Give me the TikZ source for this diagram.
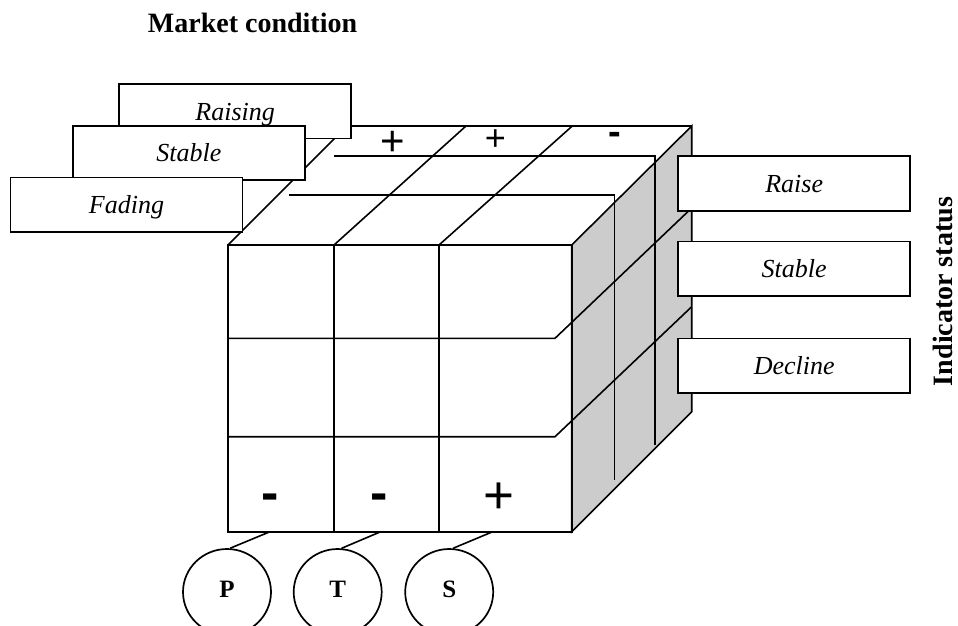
\documentclass[tikz,border=0pt]{standalone}
\usepackage{fontspec}
\setmainfont{Liberation Serif}
\newfontfamily\signfont{Liberation Sans}
\usetikzlibrary{shapes.geometric}
\begin{document}
\begin{tikzpicture}[x=1pt,y=-1pt,line width=1.6pt,
  cubeline/.style={line width=1.6pt,line join=miter},
  facegray/.style={fill=black!20,draw=black,line width=1.6pt},
  lblbox/.style={draw,fill=white,line width=1.8pt,minimum width=232pt,minimum height=54.5pt,
    inner sep=0pt,text height=18pt,text depth=0pt,font=\fontsize{26}{30}\selectfont\itshape},
  title/.style={anchor=base,inner sep=0pt,font=\fontsize{28}{32}\selectfont\bfseries},
  letternode/.style={draw,ellipse,line width=1.7pt,minimum width=88pt,minimum height=86pt,
    inner sep=0pt,text height=10.6pt,text depth=0pt,font=\fontsize{25}{29}\selectfont\bfseries},
  plussign/.style={anchor=base,inner sep=0pt},
  wire/.style={line width=1.6pt}]
\useasboundingbox (0,0) rectangle (958,625);
\begin{scope}
\clip (0,0) rectangle (958,625);
% cube corners
\coordinate (F1) at (228,245);
\coordinate (F2) at (571.7,245);
\coordinate (F3) at (571.7,531.7);
\coordinate (F4) at (228,531.7);
\coordinate (B1) at (347,126);
\coordinate (B2) at (691.7,126);
\coordinate (B3) at (691.7,411.7);
% right face
\draw[facegray] (F2) -- (B2) -- (B3) -- (F3) -- cycle;
% front face
\draw[cubeline] (F1) rectangle (F3);
% top face
\draw[cubeline] (F1) -- (B1) -- (B2);
% front column lines
\draw[cubeline] (334,245) -- (334,531.7);
\draw[cubeline] (439,245) -- (439,531.7);
% row lines bending onto the right face
\draw[cubeline] (228,338.3) -- (555,338.3) -- (691.7,208);
\draw[cubeline] (228,436.7) -- (555,436.7) -- (691.7,306.7);
% top column lines
\draw[cubeline] (334,245) -- (466,126);
\draw[cubeline] (439,245) -- (572.3,126);
% depth lines
\draw[cubeline] (334,156) -- (655,156) -- (655,445);
\draw[cubeline] (289,195) -- (614.3,195) -- (614.3,480);
% signs on top
\node[plussign,font=\signfont\fontsize{42}{46}\selectfont] (tp1) at (392.7,155.4) {+};
\node[plussign,font=\signfont\fontsize{36}{40}\selectfont] (tp2) at (495.3,150.3) {+};
\node[plussign,font=\signfont\bfseries\fontsize{38}{42}\selectfont] (tm1) at (614.7,144.5) {-};
% signs on front
\node[plussign,font=\signfont\bfseries\fontsize{52}{56}\selectfont] (fm1) at (269.7,510.5) {-};
\node[plussign,font=\signfont\bfseries\fontsize{52}{56}\selectfont] (fm2) at (378.7,510.5) {-};
\node[plussign,font=\signfont\fontsize{53}{57}\selectfont] (fp1) at (499.2,513.5) {+};
% left boxes
\node[lblbox] (raising) at (235.2,111.2) {Raising};
\node[lblbox] (stableL) at (188.8,152.9) {Stable};
\node[lblbox] (fading) at (126.5,204.8) {Fading};
% right boxes
\node[lblbox] (raise) at (794.2,183.4) {Raise};
\node[lblbox] (stableR) at (794.2,268.7) {Stable};
\node[lblbox] (decline) at (794.2,365.7) {Decline};
% titles
\node[title] (market) at (252.5,32.3) {Market condition};
\node[title,rotate=90] (indicator) at (952.5,291.5) {Indicator status};
% letter ellipses
\node[letternode] (P) at (227,592) {P};
\node[letternode] (T) at (337.7,592) {T};
\node[letternode] (S) at (449.2,592) {S};
\coordinate (cP) at (270,531.7);
\coordinate (cT) at (380.7,531.7);
\coordinate (cS) at (492.7,531.7);
\draw[wire] (cP) -- (P.86);
\draw[wire] (cT) -- (T.85);
\draw[wire] (cS) -- (S.85);
\end{scope}
\end{tikzpicture}
\end{document}
